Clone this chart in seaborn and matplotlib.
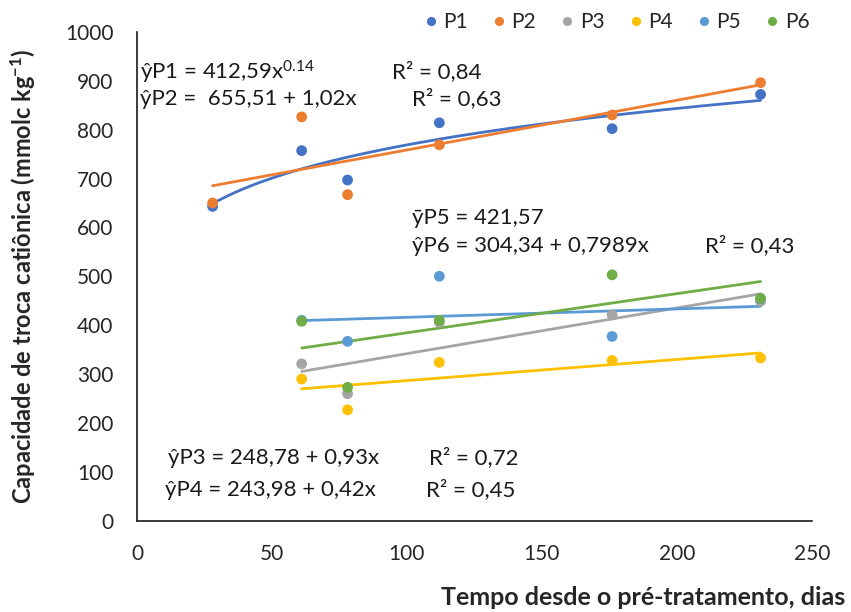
import numpy as np
import pandas as pd
import seaborn as sns
import matplotlib
matplotlib.use("Agg")
import matplotlib.pyplot as plt

# Sampling days and measured CTC values per treatment
dias_todos = [28, 61, 78, 112, 176, 231]
dias_p3_p6 = [61, 78, 112, 176, 231]

p1 = [643, 757, 697, 814, 802, 872]
p2 = [650, 826, 667, 769, 830, 896]
p3 = [321, 260, 406, 421, 449]
p4 = [290, 227, 324, 328, 333]
p5 = [410, 367, 500, 377, 454]
p6 = [408, 273, 410, 503, 455]

series = ["P1", "P2", "P3", "P4", "P5", "P6"]
cores = ["#4472C4", "#ED7D31", "#A5A5A5", "#FFC000", "#5B9BD5", "#70AD47"]

x_ticks = [0, 50, 100, 150, 200, 250]
y_ticks = [0, 100, 200, 300, 400, 500, 600, 700, 800, 900, 1000]

sns.set_theme(style="white")
plt.rcParams["font.family"] = ["Lato", "DejaVu Sans"]
plt.rcParams["mathtext.fontset"] = "custom"
plt.rcParams["mathtext.rm"] = "Lato"
plt.rcParams["mathtext.it"] = "Lato:italic"
plt.rcParams["mathtext.bf"] = "Lato:bold"

valores = {"P1": p1, "P2": p2, "P3": p3, "P4": p4, "P5": p5, "P6": p6}
dias = {"P1": dias_todos, "P2": dias_todos}
linhas = []
for s in series:
    xs = dias.get(s, dias_p3_p6)
    for xv, yv in zip(xs, valores[s]):
        linhas.append({"dias": xv, "ctc": yv, "serie": s})
df = pd.DataFrame(linhas)
paleta = dict(zip(series, cores))

fig = plt.figure(figsize=(8.51, 6.12), dpi=100)
ax = fig.add_axes([0.161, 0.149, 0.793, 0.799])

# Power trend for P1 (fit in log-log space)
d1 = df[df.serie == "P1"]
b, ln_a = np.polyfit(np.log(d1.dias), np.log(d1.ctc), 1)
xc = np.linspace(d1.dias.min(), d1.dias.max(), 200)
sns.lineplot(x=xc, y=np.exp(ln_a) * xc ** b, color=paleta["P1"], lw=2.0, ax=ax, zorder=2)

# Linear trends for the remaining treatments
for s in series[1:]:
    sub = df[df.serie == s]
    sns.regplot(data=sub, x="dias", y="ctc", scatter=False, ci=None, truncate=True,
                color=paleta[s], line_kws={"lw": 2.0, "zorder": 2}, ax=ax)

sns.scatterplot(data=df, x="dias", y="ctc", hue="serie", palette=paleta, s=60,
                edgecolor="none", ax=ax, zorder=3, legend=True)

ax.set_xlim(0, 250)
ax.set_ylim(0, 1000)
ax.set_xticks(x_ticks)
ax.set_yticks(y_ticks)
ax.tick_params(axis="both", length=0, pad=17, labelsize=15, labelcolor="#262626")
for sp in ["top", "right"]:
    ax.spines[sp].set_visible(False)
for sp in ["left", "bottom"]:
    ax.spines[sp].set_color("#1a1a1a")
    ax.spines[sp].set_linewidth(1.2)
ax.set_xlabel("")
ax.set_ylabel("Capacidade de troca catiônica (mmolc kg$^{\\mathbf{-1}}$)",
              fontsize=17, fontweight="bold")
ax.yaxis.set_label_coords(-0.148, 0.5)

fig.text(0.993, 0.023, "Tempo desde o pré-tratamento, dias", ha="right", va="center",
         fontsize=18, fontweight="bold")

handles, labels = ax.get_legend_handles_labels()
ax.legend(handles, labels, loc="center", bbox_to_anchor=(0.725, 0.964),
          bbox_transform=fig.transFigure, ncol=6, frameon=False, fontsize=15,
          handlelength=0.6, handletextpad=0.3, columnspacing=1.2,
          markerscale=0.85, borderaxespad=0, borderpad=0)

txt = dict(fontsize=16, color="#1a1a1a", va="center", ha="left")
ax.text(1.0, 918, "ŷP1 = 412,59x$^{0.14}$", **txt)
ax.text(94.5, 918, "R² = 0,84", **txt)
ax.text(1.0, 863, "ŷP2 =  655,51 + 1,02x", **txt)
ax.text(102, 863, "R² = 0,63", **txt)
ax.text(102, 620, "ȳP5 = 421,57", **txt)
ax.text(102, 562, "ŷP6 = 304,34 + 0,7989x", **txt)
ax.text(210.5, 562, "R² = 0,43", **txt)
ax.text(11.5, 129, "ŷP3 = 248,78 + 0,93x", **txt)
ax.text(108, 129, "R² = 0,72", **txt)
ax.text(10.5, 63, "ŷP4 = 243,98 + 0,42x", **txt)
ax.text(107, 63, "R² = 0,45", **txt)

fig.savefig("out.png", dpi=100)
